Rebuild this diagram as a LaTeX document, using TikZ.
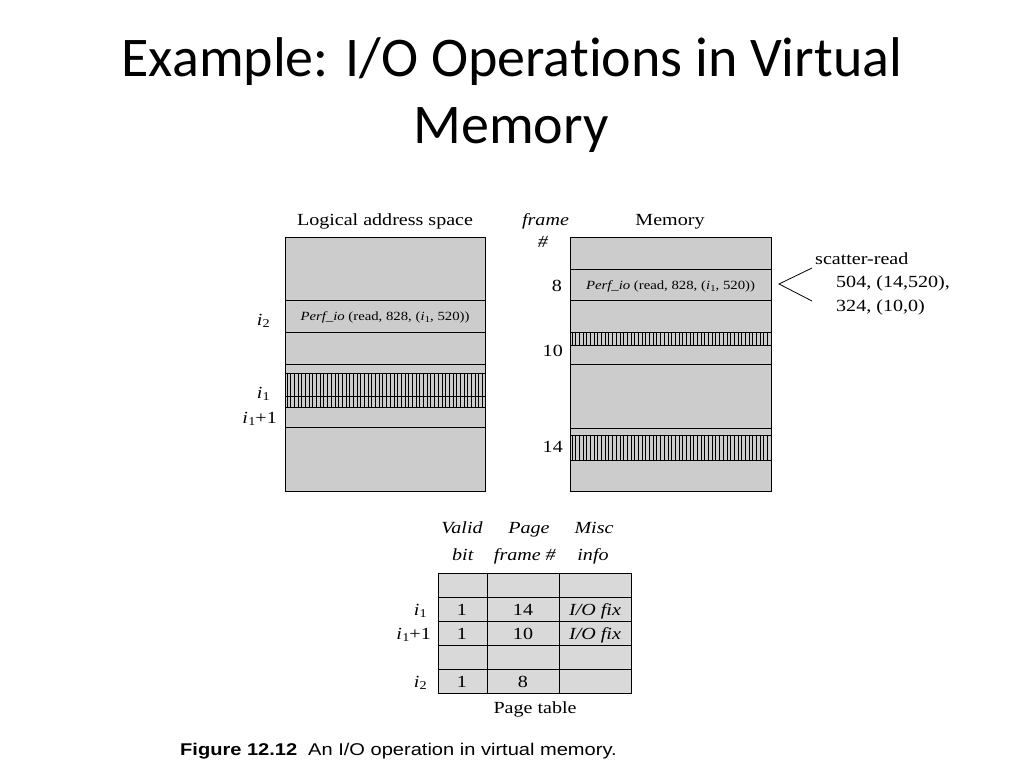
\documentclass[tikz,border=0pt]{standalone}
\usepackage{fontspec}
\setmainfont[FakeStretch=1.18]{Liberation Serif}
\newfontfamily\titlefont[Ligatures={NoCommon,NoContextual}]{Carlito}
\newfontfamily\capfont[FakeStretch=1.18]{Liberation Sans}
\newcommand\isub[2]{\textit{i}\kern0.02em\raisebox{-0.35ex}{\fontsize{#2}{#2}\selectfont #1}}
\definecolor{boxgray}{HTML}{CCCCCC}
\definecolor{tabgray}{HTML}{D9D9D9}
\begin{document}
\begin{tikzpicture}[x=1pt,y=-1pt,
  box/.style={draw, line width=1pt, fill=boxgray, inner sep=0pt, anchor=north west},
  sep/.style={line width=1pt},
  hatch/.style={line width=0.9pt, black},
  lab/.style={font=\fontsize{17}{20}\selectfont, inner sep=0pt, anchor=base},
  labe/.style={lab, anchor=base east},
  labw/.style={lab, anchor=base west},
  small/.style={font=\fontsize{12.5}{15}\selectfont, inner sep=0pt, anchor=base},
  ttl/.style={font=\titlefont\fontsize{56}{66}\selectfont, inner sep=0pt, anchor=base},
  capt/.style={font=\capfont\fontsize{17}{20}\selectfont, inner sep=0pt, anchor=base west}]
\useasboundingbox (0,0) rectangle (1024,768);
% title
\node[ttl] (t1) at (512,76) {Example: I/O Operations in Virtual};
\node[ttl] (t2) at (511,143) {Memory};

% ---- Logical address space ----
\node[lab] (lasT) at (385,225) {Logical address space};
\node[box, minimum width=200pt, minimum height=254pt] (las) at (285,237) {};
\foreach \yy in {300,332,364,427} \draw[sep] (285,\yy) -- (485,\yy);
\foreach \i in {0,...,53} \draw[hatch] ({287+\i*3.69},373) -- ({287+\i*3.69},407);
\draw[sep] (285,373) -- (485,373);
\draw[sep] (285,396) -- (485,396);
\draw[sep] (285,407) -- (485,407);
\node[small] (pio1) at (385,320) {\textit{Perf\_io} (read, 828, (\isub{1}{9}, 520))};
\node[labe] (li2) at (270,325) {\isub{2}{12}};
\node[labe] (li1) at (270,398) {\isub{1}{12}};
\node[labe] (li1p) at (277,423) {\isub{1}{12}+1};

% ---- Memory ----
\node[lab] (memT) at (670,225) {Memory};
\node[lab] (frT) at (545.5,225) {\textit{frame}};
\node[lab] (frH) at (543,247) {\textit{\#}};
\node[box, minimum width=201pt, minimum height=254pt] (mem) at (570,237) {};
\foreach \yy in {269,300,364,428} \draw[sep] (570,\yy) -- (771,\yy);
\foreach \i in {0,...,53} \draw[hatch] ({572+\i*3.69},332) -- ({572+\i*3.69},345);
\foreach \i in {0,...,53} \draw[hatch] ({572+\i*3.69},435) -- ({572+\i*3.69},460);
\foreach \yy in {332,345,435,460} \draw[sep] (570,\yy) -- (771,\yy);
\node[small] (pio2) at (670.5,289) {\textit{Perf\_io} (read, 828, (\isub{1}{9}, 520))};
\node[labe] (f8) at (562,291) {8};
\node[labe] (f10) at (563,356) {10};
\node[labe] (f14) at (563,452) {14};

% scatter-read
\coordinate (sa) at (812,268);
\coordinate (sb) at (779,284);
\coordinate (sc) at (812,301);
\draw[line width=0.8pt] (sa) -- (sb) -- (sc);
\node[labw] (sr1) at (815,264) {scatter-read};
\node[labw] (sr2) at (836,287) {504, (14,520),};
\node[labw] (sr3) at (836,311) {324, (10,0)};

% ---- Page table ----
\node[lab] (hV) at (462,533) {\textit{Valid}};
\node[lab] (hb) at (463,560) {\textit{bit}};
\node[lab] (hP) at (529,533) {\textit{Page}};
\node[lab] (hf) at (525,560) {\textit{frame \#}};
\node[lab] (hM) at (594,533) {\textit{Misc}};
\node[lab] (hi) at (593,560) {\textit{info}};
\node[box, fill=tabgray, minimum width=193pt, minimum height=120pt] (pt) at (438,573) {};
\foreach \yy in {597,621,645,669} \draw[sep] (438,\yy) -- (631,\yy);
\foreach \xx in {487,559} \draw[sep] (\xx,573) -- (\xx,693);
\node[lab] (v1) at (462,615) {1};
\node[lab] (v2) at (462,639) {1};
\node[lab] (v3) at (462,687) {1};
\node[lab] (p1) at (523,615) {14};
\node[lab] (p2) at (523,639) {10};
\node[lab] (p3) at (523,687) {8};
\node[lab] (m1) at (595,615) {\textit{I/O fix}};
\node[lab] (m2) at (595,639) {\textit{I/O fix}};
\node[labe] (r1) at (427,615) {\isub{1}{12}};
\node[labe] (r2) at (431,639) {\isub{1}{12}+1};
\node[labe] (r3) at (427,687) {\isub{2}{12}};
\node[lab] (ptT) at (535,713) {Page table};

% caption
\node[capt] (c1) at (180,755) {\bfseries Figure 12.12};
\node[capt] (c2) at (308,755) {An I/O operation in virtual memory.};
\end{tikzpicture}
\end{document}
